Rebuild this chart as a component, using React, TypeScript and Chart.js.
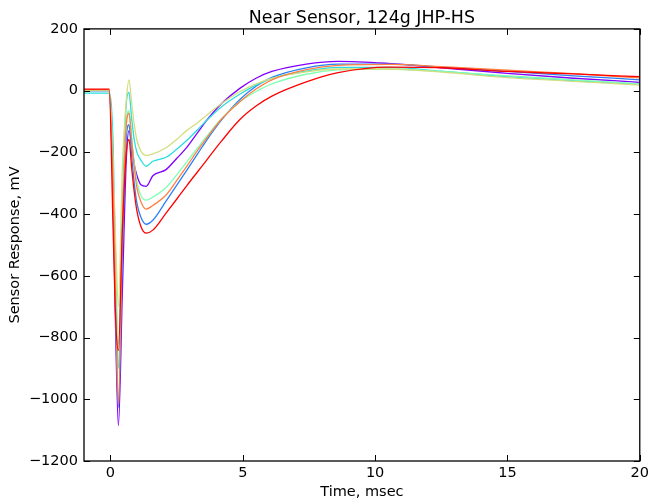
import React, { useEffect, useRef } from "react";
import { Chart, registerables } from "chart.js";

Chart.register(...registerables);

const TITLE = "Near Sensor, 124g JHP-HS";
const X_LABEL = "Time, msec";
const Y_LABEL = "Sensor Response, mV";

const X_TICKS = [0, 5, 10, 15, 20];
const Y_TICKS = [200, 0, -200, -400, -600, -800, -1000, -1200];

// time samples (msec)
const TIME = [-1, -0.5, -0.05, 0.1, 0.2, 0.3, 0.45, 0.6, 0.7, 0.8, 0.9, 1.0, 1.15, 1.35, 1.6, 2.1, 2.5, 2.9, 3.3, 3.6, 4.2, 4.9, 5.5, 6.1, 7.4, 8.6, 10.5, 12.5, 15, 17.5, 20];

const PURPLE = [0, 0, 0, -350, -800, -1085, -650, -220, -130, -170, -240, -275, -305, -310, -276, -256, -220, -182, -135, -100, -42, 8, 40, 62, 86, 95, 88, 74, 56, 40, 27];
const BLUE = [0, 0, 0, -300, -750, -1026, -520, -150, -110, -210, -300, -365, -410, -433, -420, -358, -307, -256, -204, -165, -95, -28, 14, 43, 74, 86, 86, 76, 62, 48, 35];
const CYAN = [-8, -8, -8, -170, -600, -900, -380, -40, -6, -90, -160, -200, -225, -245, -229, -216, -190, -160, -126, -99, -52, -11, 18, 40, 63, 75, 75, 63, 45, 32, 21];
const GREEN = [0, 0, 0, -250, -600, -820, -420, -100, -65, -150, -235, -295, -340, -355, -345, -314, -273, -229, -185, -152, -90, -35, -3, 22, 53, 67, 70, 62, 48, 35, 22];
const YELLOW = [2, 2, 2, -250, -500, -700, -250, -30, 35, -40, -110, -160, -196, -210, -205, -185, -158, -128, -103, -82, -42, -3, 22, 40, 61, 70, 70, 60, 42, 30, 18];
const ORANGE = [3, 3, 3, -300, -700, -1016, -450, -110, -73, -160, -250, -315, -360, -384, -372, -338, -292, -243, -193, -158, -92, -35, 5, 35, 68, 82, 85, 78, 66, 55, 41];
const RED = [5, 5, 5, -450, -750, -842, -450, -200, -158, -250, -330, -390, -440, -462, -452, -397, -352, -306, -262, -229, -163, -93, -50, -18, 28, 58, 76, 74, 62, 54, 45];

const SERIES = [PURPLE, BLUE, CYAN, GREEN, YELLOW, ORANGE, RED];
const COLORS = ["#8000ff", "#2a80f6", "#2addde", "#80ffb4", "#d4dd80", "#ff8042", "#ff0000"];

const FONT = "'DejaVu Sans', sans-serif";
const fmt = (v: number) => (v < 0 ? "\u2212" + Math.abs(v) : String(v));

const framePlugin = {
  id: "frameTicks",
  afterDatasetsDraw(chart: any) {
    const { ctx, chartArea } = chart;
    const { left, right, top, bottom } = chartArea;
    const xs = chart.scales.x;
    const ys = chart.scales.y;
    ctx.save();
    ctx.strokeStyle = "#000";
    ctx.lineWidth = 1;
    const L = 6;
    ctx.beginPath();
    X_TICKS.forEach((v) => {
      const px = Math.round(xs.getPixelForValue(v)) + 0.5;
      ctx.moveTo(px, bottom);
      ctx.lineTo(px, bottom - L);
      ctx.moveTo(px, top);
      ctx.lineTo(px, top + L);
    });
    Y_TICKS.forEach((v) => {
      const py = Math.round(ys.getPixelForValue(v)) + 0.5;
      ctx.moveTo(left, py);
      ctx.lineTo(left + L, py);
      ctx.moveTo(right, py);
      ctx.lineTo(right - L, py);
    });
    ctx.stroke();
    ctx.lineWidth = 1.3;
    ctx.strokeRect(left, top, right - left, bottom - top);
    ctx.restore();
  },
};

export default function App() {
  const ref = useRef<HTMLCanvasElement | null>(null);
  useEffect(() => {
    if (!ref.current) return;
    const datasets = SERIES.map((vals, i) => ({
      label: "s" + i,
      data: TIME.map((t, j) => ({ x: t, y: vals[j] })),
      borderColor: COLORS[i],
      backgroundColor: COLORS[i],
      borderWidth: 1.3,
      pointRadius: 0,
      fill: false,
      cubicInterpolationMode: "monotone" as const,
      order: SERIES.length - 1 - i,
    }));
    const chart = new Chart(ref.current, {
      type: "line",
      data: { datasets },
      options: {
        animation: false,
        responsive: false,
        maintainAspectRatio: false,
        devicePixelRatio: 1,
        layout: { padding: { left: 0, right: 12, top: 0, bottom: 0 } },
        plugins: {
          legend: { display: false },
          tooltip: { enabled: false },
          title: {
            display: true,
            text: TITLE,
            fullSize: false,
            color: "#000",
            font: { family: FONT, size: 17.4, weight: "normal" },
            padding: { top: 8, bottom: 0 },
          },
        },
        scales: {
          x: {
            type: "linear",
            min: -1,
            max: 20,
            afterBuildTicks: (s: any) => {
              s.ticks = X_TICKS.map((v) => ({ value: v }));
            },
            afterFit: (s: any) => {
              s.height = 40;
            },
            grid: { display: false, drawTicks: false },
            border: { display: false },
            ticks: {
              color: "#000",
              padding: 4,
              maxRotation: 0,
              font: { family: FONT, size: 14.5 },
              callback: (v: any) => fmt(Number(v)),
            },
            title: {
              display: true,
              text: X_LABEL,
              color: "#000",
              font: { family: FONT, size: 14.5 },
              padding: { top: 0, bottom: 0 },
            },
          },
          y: {
            type: "linear",
            min: -1200,
            max: 200,
            afterBuildTicks: (s: any) => {
              s.ticks = Y_TICKS.map((v) => ({ value: v }));
            },
            afterFit: (s: any) => {
              s.width = 84;
            },
            grid: { display: false, drawTicks: false },
            border: { display: false },
            ticks: {
              color: "#000",
              padding: 6,
              font: { family: FONT, size: 14.5 },
              callback: (v: any) => fmt(Number(v)),
            },
            title: {
              display: true,
              text: Y_LABEL,
              color: "#000",
              font: { family: FONT, size: 14.5 },
              padding: { top: 7, bottom: 0 },
            },
          },
        },
      },
      plugins: [framePlugin],
    });
    return () => chart.destroy();
  }, []);
  return (
    <div style={{ position: "fixed", left: 0, top: 0, width: 653, height: 501, background: "#fff" }}>
      <canvas ref={ref} width={653} height={501} style={{ display: "block", width: 653, height: 501 }} />
    </div>
  );
}
